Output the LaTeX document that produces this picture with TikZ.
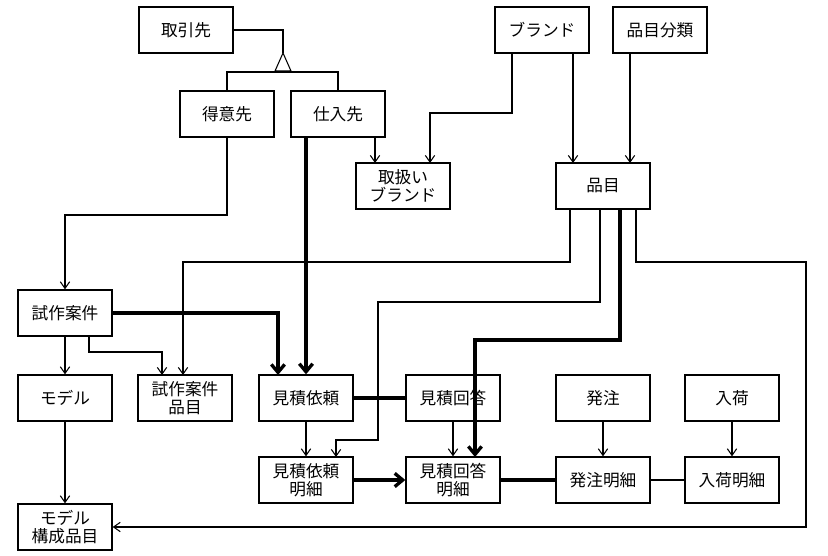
\documentclass[tikz,border=0pt]{standalone}
\usepackage{fontspec}
\setmainfont{Noto Sans CJK JP}
\usetikzlibrary{arrows.meta}
\begin{document}
\begin{tikzpicture}[x=0.75pt,y=-0.75pt,
 box/.style={draw,line width=1pt,minimum width=70.5pt,minimum height=34.5pt,align=center,font=\fontsize{12.5}{13.5}\selectfont,inner sep=1pt},
 ln/.style={line width=0.8pt},
 ar/.style={ln,-{Straight Barb[length=5pt,width=7pt]}},
 th/.style={line width=2.5pt},
 tar/.style={th,-{Straight Barb[length=6pt,width=10pt]}}]
\useasboundingbox (0,0) rectangle (828,556);
\node[box] (tr) at (186,30) {取引先};
\node[box] (tk) at (227,114) {得意先};
\node[box] (si) at (338,114) {仕入先};
\node[box] (br) at (542,30) {ブランド};
\node[box] (bn) at (660,30) {品目分類};
\node[box] (tb) at (403,186) {取扱い\\ブランド};
\node[box] (hm) at (603,186) {品目};
\node[box] (sa) at (65,313) {試作案件};
\node[box] (md) at (65,398) {モデル};
\node[box] (sh) at (185,398) {試作案件\\品目};
\node[box] (mi) at (306,398) {見積依頼};
\node[box] (mk) at (453,398) {見積回答};
\node[box] (ha) at (603,398) {発注};
\node[box] (nk) at (732,398) {入荷};
\node[box] (mim) at (306,480) {見積依頼\\明細};
\node[box] (mkm) at (453,480) {見積回答\\明細};
\node[box] (ham) at (603,480) {発注明細};
\node[box] (nkm) at (732,480) {入荷明細};
\node[box] (mkh) at (65,527) {モデル\\構成品目};
% generalization
\coordinate (ap) at (283,53);
\draw[ln] (tr.east) -- (283,30) -- (ap);
\draw[ln,fill=white] (ap) -- (275,71) -- (291,71) -- cycle;
\draw[ln] (tk.north) -- (227,72) -- (338,72) -- (si.north);
% edges
\draw[ar] (tk.south) -- (227,215) -- (65,215) -- (sa.north);
\draw[ar] (375,137) -- (375,163);
\draw[ar] (512,53) -- (512,113) -- (430,113) -- (430,163);
\draw[ar] (573,53) -- (573,163);
\draw[ar] (630,53) -- (630,163);
\draw[tar] (306,137) -- (mi.north);
\draw[tar] (sa.east) -- (278,313) -- (278,375);
\draw[ar] (sa.south) -- (md.north);
\draw[ar] (89,336) -- (89,352) -- (162,352) -- (162,375);
\draw[ar] (570,209) -- (570,262) -- (183,262) -- (183,375);
\draw[ar] (600,209) -- (600,302) -- (378,302) -- (378,440) -- (336,440) -- (336,457);
\draw[tar] (620,209) -- (620,340) -- (475,340) -- (475,457);
\draw[ar] (636,209) -- (636,262) -- (806,262) -- (806,527) -- (mkh.east);
\draw[ar] (md.south) -- (mkh.north);
\draw[th] (mi.east) -- (mk.west);
\draw[ar] (mi.south) -- (mim.north);
\draw[tar] (mim.east) -- (mkm.west);
\draw[ar] (mk.south) -- (mkm.north);
\draw[th] (mkm.east) -- (ham.west);
\draw[ar] (ha.south) -- (ham.north);
\draw[ar] (nk.south) -- (nkm.north);
\draw[ln] (ham.east) -- (nkm.west);
\end{tikzpicture}
\end{document}
